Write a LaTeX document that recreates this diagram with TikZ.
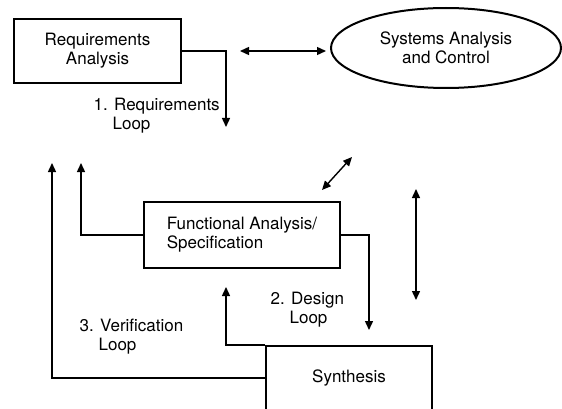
\documentclass[tikz,border=0pt]{standalone}
\usepackage{fontspec}
\setmainfont{TeX Gyre Heros}
\usetikzlibrary{arrows.meta,shapes.geometric}

\tikzset{every picture/.style={line width=1.4pt}}
\tikzset{
  boxnode/.style={draw,line width=2pt,inner sep=0pt,align=center},
  loopnote/.style={anchor=north west,inner sep=0pt,align=left},
  tip/.style={-{Triangle[length=9pt,width=8pt]}},
  twotip/.style={{Triangle[length=9pt,width=8pt]}-{Triangle[length=9pt,width=8pt]}}
}

\begin{document}
\begin{tikzpicture}%
[x=1pt,y=1pt,yscale=-1,xscale=1,every node/.style={font=\fontsize{17}{19}\selectfont}]
\useasboundingbox (0,0) rectangle (562,409);

%Shape: Rectangle [id:req]
\node [boxnode,minimum width=167pt,minimum height=64pt] (req) at (97.5,51) {Requirements\\Analysis};
%Shape: Ellipse [id:sac]
\node [draw,ellipse,line width=2pt,minimum width=230pt,minimum height=80pt,align=center,inner sep=0pt] (sac) at (446,48) {Systems Analysis\\and Control};
%Shape: Rectangle [id:fun]
\node [boxnode,align=left,minimum width=196pt,minimum height=66pt] (fun) at (242,235) {Functional Analysis/\\Specification};
%Shape: Rectangle [id:syn]
\node [boxnode,minimum width=166pt,minimum height=64pt] (syn) at (349,378) {Synthesis};

%Free ends
\coordinate (reqend) at (226,127);
\coordinate (funend) at (81,163);
\coordinate (verend) at (52,163);
\coordinate (desend) at (369,330);
\coordinate (synend) at (226,287);
\coordinate (hleft) at (240,51);
\coordinate (hright) at (326,51);
\coordinate (dlow) at (322,190);
\coordinate (dhigh) at (352,157);
\coordinate (vtop) at (416,189);
\coordinate (vlow) at (416,300);

%Straight Lines [id:loop1]
\draw [tip] (req.east) -| (reqend);
%Straight Lines [id:loop2]
\draw [tip] (fun.east) -| (desend);
\draw [tip] (syn.north west) -| (synend);
%Straight Lines [id:loop3]
\draw [tip] (fun.west) -| (funend);
\draw [tip] (syn.west) -| (verend);
%Straight Lines [id:sac links]
\draw [twotip] (hleft) -- (hright);
\draw [twotip] (dlow) -- (dhigh);
\draw [twotip] (vtop) -- (vlow);

% Text Node
\node [loopnote] (lbl1) at (93,97) {1. Requirements\\\phantom{1.\ }Loop};
% Text Node
\node [loopnote] (lbl2) at (270,291) {2. Design\\\phantom{2.\ }Loop};
% Text Node
\node [loopnote] (lbl3) at (79,318) {3. Verification\\\phantom{3.\ }Loop};

\end{tikzpicture}
\end{document}
